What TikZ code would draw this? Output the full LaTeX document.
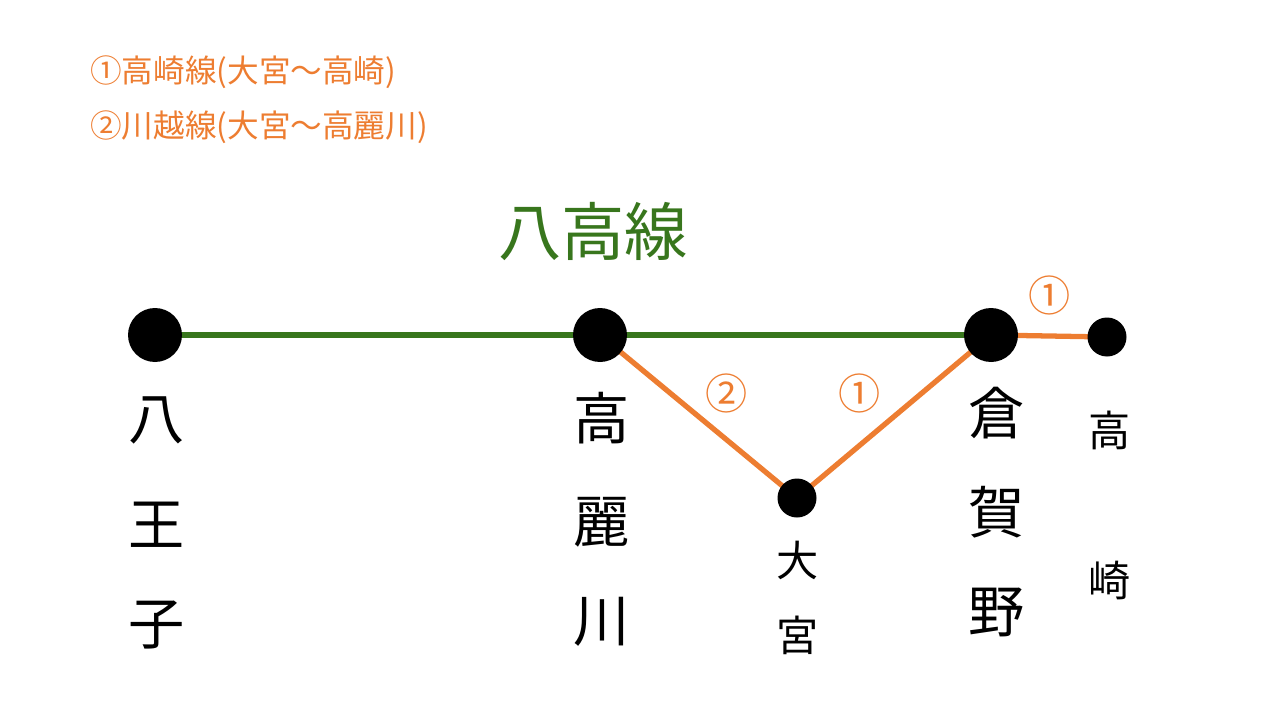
\documentclass[tikz,border=0pt]{standalone}
\usepackage{fontspec}
\setmainfont{Noto Sans CJK JP}
\usetikzlibrary{positioning}
\definecolor{lineorange}{RGB}{237,125,49}
\definecolor{linegreen}{RGB}{56,118,29}
\tikzset{
  bigstn/.style={circle, fill=black, minimum size=1.08cm, inner sep=0pt},
  smallstn/.style={circle, fill=black, minimum size=0.78cm, inner sep=0pt},
  stnname/.style={font=\fontsize{32}{34}\selectfont},
  smallname/.style={font=\fontsize{24}{26}\selectfont},
  numlabel/.style={text=lineorange, font=\fontsize{24}{26}\selectfont},
  legend/.style={anchor=west, text=lineorange, font=\fontsize{18}{20}\selectfont},
}
\begin{document}
\begin{tikzpicture}[x=0.02cm, y=-0.02cm]
    \useasboundingbox (0,0) rectangle (1280,720);

    % legend
    \node[legend] (leg1) at (84,72) {①高崎線(大宮～高崎)};
    \node[legend] (leg2) at (84,127) {②川越線(大宮～高麗川)};
    \node[text=linegreen, font=\fontsize{36}{38}\selectfont] (title) at (593,232) {八高線};

    % stations
    \coordinate (hachioji) at (155,335);
    \coordinate (komagawa) at (600,335);
    \coordinate (omiya) at (797,498);
    \coordinate (kuragano) at (991,335);
    \coordinate (takasaki) at (1107,337);

    % lines
    \draw[linegreen, line width=3pt] (hachioji) -- (kuragano);
    \draw[lineorange, line width=3pt] (komagawa) -- (omiya) -- (kuragano) -- (takasaki);
    \node[bigstn] (hachiojidot) at (hachioji) {};
    \node[bigstn] (komagawadot) at (komagawa) {};
    \node[bigstn] (kuraganodot) at (kuragano) {};
    \node[smallstn] (omiyadot) at (omiya) {};
    \node[smallstn] (takasakidot) at (takasaki) {};

    \node[numlabel] (n2) at (727,393) {②};
    \node[numlabel] (n1a) at (860,393) {①};
    \node[numlabel] (n1b) at (1050,295) {①};

    % station names
    \node[stnname] (h1) at (157,420) {八};
    \node[stnname] (h2) at (157,525) {王};
    \node[stnname] (h3) at (157,625) {子};
    \node[stnname] (k1) at (602,418) {高};
    \node[stnname] (k2) at (602,522) {麗};
    \node[stnname] (k3) at (602,622) {川};
    \node[stnname] (g1) at (997,413) {倉};
    \node[stnname] (g2) at (997,512) {賀};
    \node[stnname] (g3) at (997,612) {野};
    \node[smallname] (o1) at (798,560) {大};
    \node[smallname] (o2) at (798,635) {宮};
    \node[smallname] (t1) at (1110,430) {高};
    \node[smallname] (t2) at (1110,580) {崎};
\end{tikzpicture}
\end{document}
